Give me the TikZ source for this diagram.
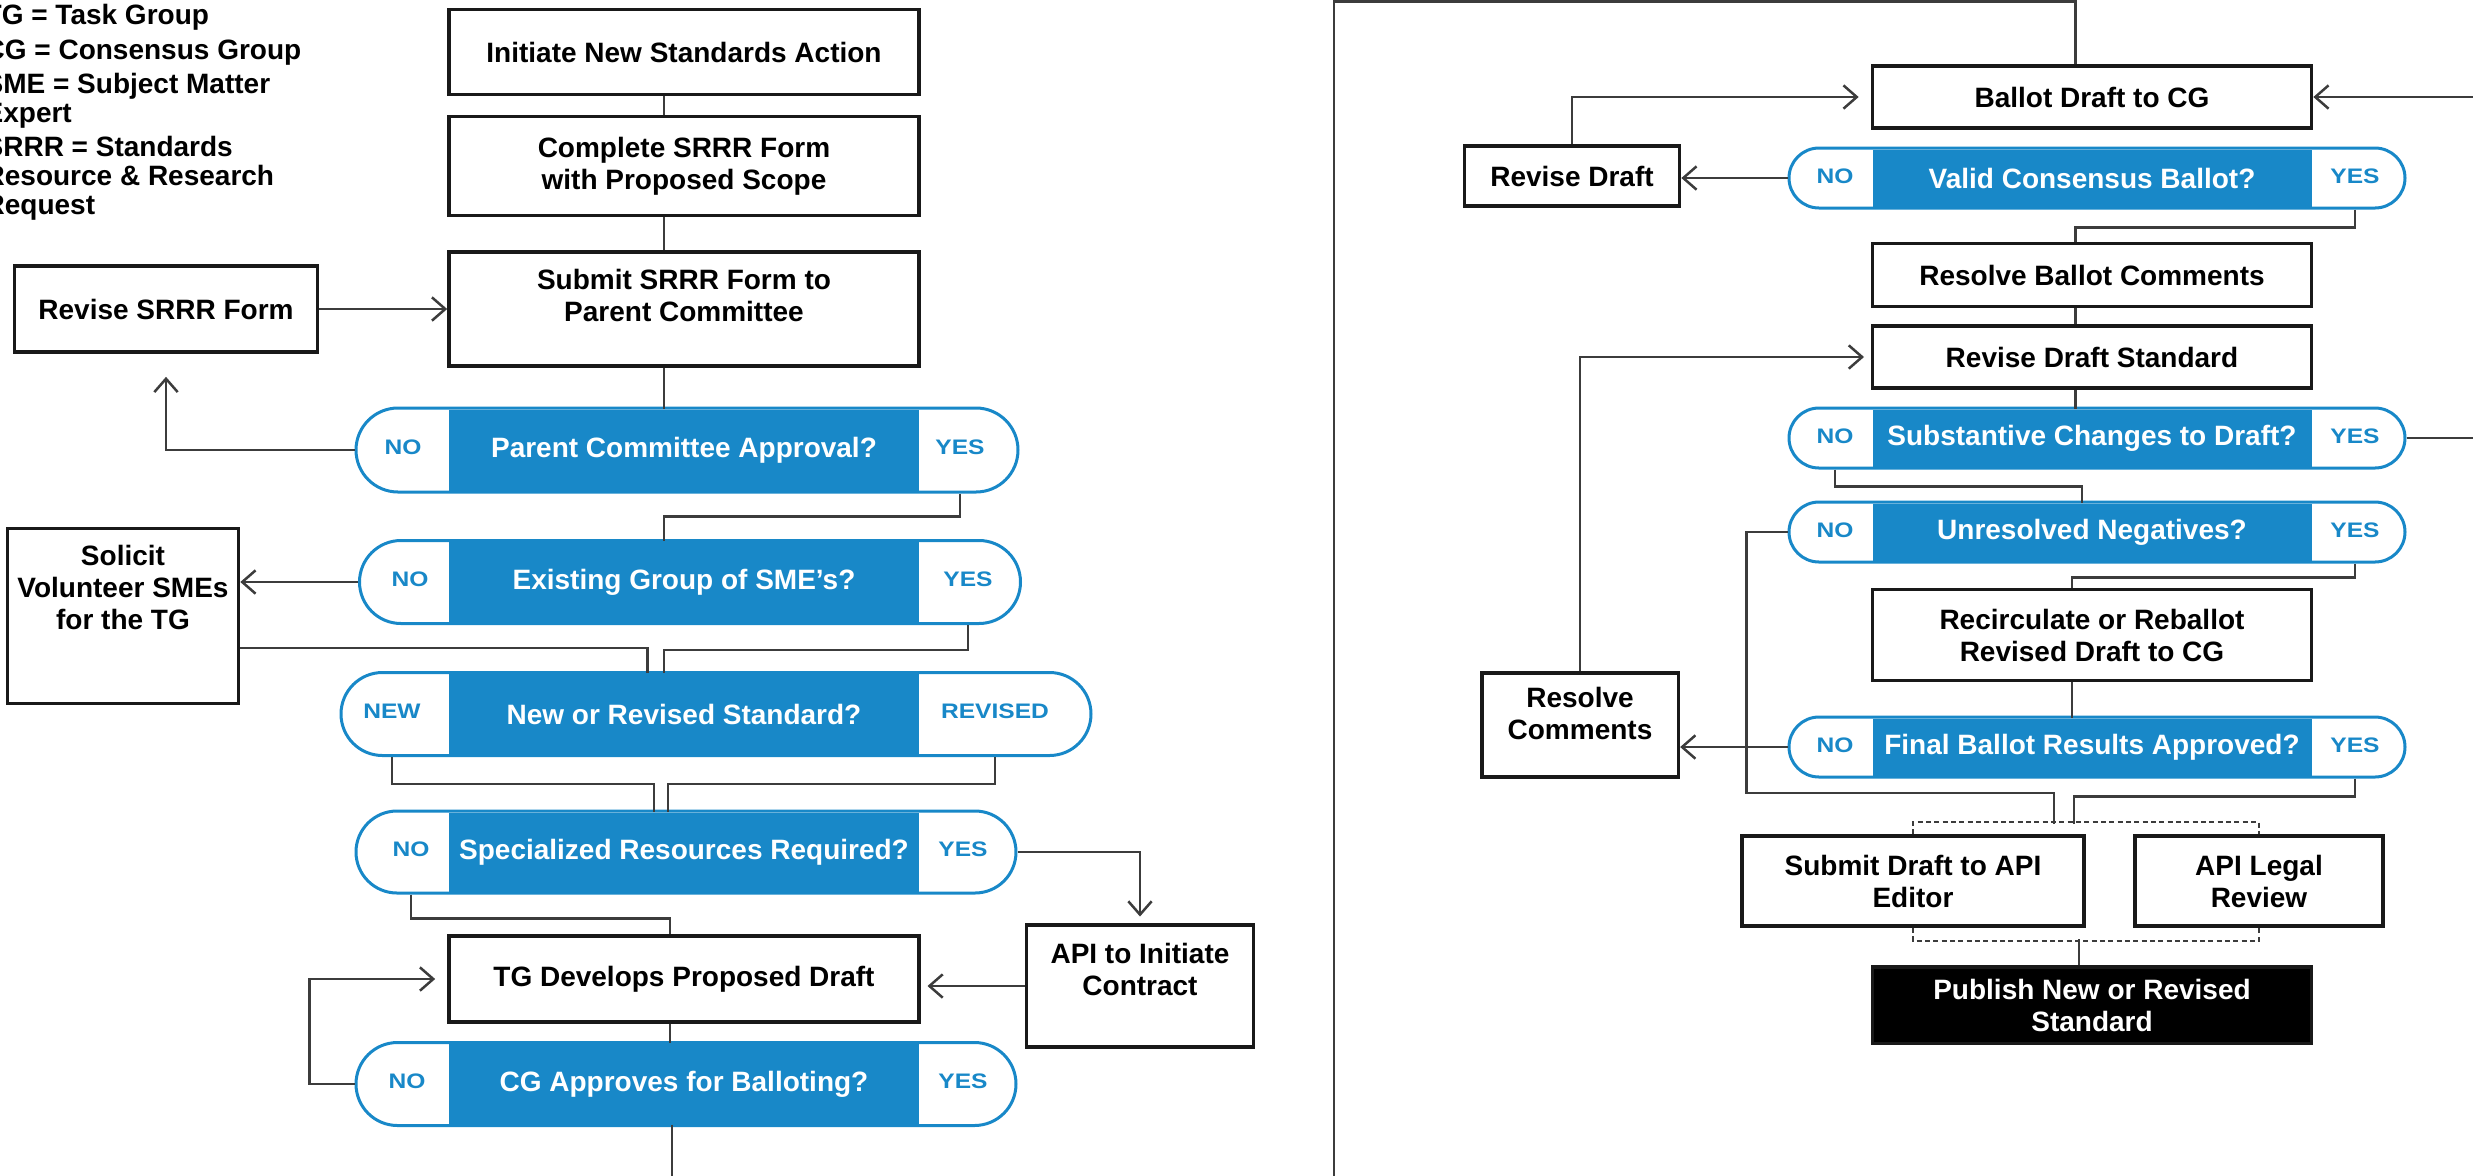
\documentclass[tikz,border=0pt]{standalone}
\usepackage{fontspec}
\setmainfont{Liberation Sans}
\newfontfamily\widefont[FakeStretch=1.17]{Liberation Sans}
\usetikzlibrary{shapes.misc,arrows.meta}

\definecolor{apiblue}{RGB}{24,136,200}
\definecolor{linegray}{RGB}{60,60,60}

\tikzset{
  box/.style={draw=black!90, line width=1.1pt, fill=white, align=center, inner sep=1pt,
    font=\bfseries\fontsize{8.4}{9.6}\selectfont},
  lbox/.style={box, minimum width=141pt},
  rbox/.style={box, minimum width=131.7pt},
  pill/.style={rounded rectangle, draw=apiblue, line width=0.9pt, fill=white, inner sep=0pt},
  ask/.style={fill=apiblue, text=white, inner sep=0pt, font=\bfseries\fontsize{8.4}{9.6}\selectfont},
  yn/.style={text=apiblue, inner sep=0pt, font=\widefont\bfseries\fontsize{6.3}{7}\selectfont},
  link/.style={draw=linegray, line width=0.75pt},
  arr/.style={link, -{Straight Barb[length=4pt,width=7pt]}},
  bracket/.style={draw=linegray, line width=0.6pt, dash pattern=on 1.5pt off 1pt},
}

\begin{document}
\begin{tikzpicture}[x=0.3pt, y=-0.3pt]
  \useasboundingbox (0,0) rectangle (2473,1175);

  % legend
  \node[anchor=north west, align=left, inner sep=0pt, font=\bfseries\fontsize{8.4}{8.7}\selectfont] (legend) at (-16,4)
    {TG = Task Group\\[1.6pt] CG = Consensus Group\\[1.6pt] SME = Subject Matter\\Expert\\[1.6pt] SRRR = Standards\\Resource \& Research\\Request};

  % left column
  \node[lbox, minimum height=25.5pt] (initiate) at (684,52) {Initiate New Standards Action};
  \node[lbox, minimum height=29.7pt] (complete) at (684,166) {Complete SRRR Form\\with Proposed Scope};
  \node[lbox, minimum height=34.2pt, text depth=8pt] (submit) at (684,309) {Submit SRRR Form to\\Parent Committee};
  \node[box, minimum width=90.9pt, minimum height=25.8pt] (revsrrr) at (166,309) {Revise SRRR Form};

  \node[pill, minimum width=198.6pt, minimum height=25.2pt] (parentpill) at (687,450) {};
  \node[ask, minimum width=141pt, minimum height=24.3pt] (parent) at (684,450) {Parent Committee Approval?};
  \node[yn] (parentno) at (403,447) {NO};
  \node[yn] (parentyes) at (960,447) {YES};

  \node[pill, minimum width=198.3pt, minimum height=24.9pt] (existpill) at (690,582) {};
  \node[ask, minimum width=141pt, minimum height=24pt] (exist) at (684,582) {Existing Group of SME’s?};
  \node[yn] (existno) at (410,579) {NO};
  \node[yn] (existyes) at (968,579) {YES};

  \node[box, minimum width=69.3pt, minimum height=52.5pt, text depth=17pt] (solicit) at (123,616) {Solicit\\Volunteer SMEs\\for the TG};

  \node[pill, minimum width=225pt, minimum height=24.9pt] (newpill) at (716,714) {};
  \node[ask, minimum width=141pt, minimum height=24pt] (new) at (684,714) {New or Revised Standard?};
  \node[yn] (newno) at (392,711) {NEW};
  \node[yn] (newyes) at (995,711) {REVISED};

  \node[pill, minimum width=198pt, minimum height=24.6pt] (specpill) at (686,852) {};
  \node[ask, minimum width=141pt, minimum height=23.7pt] (spec) at (684,852) {Specialized Resources Required?};
  \node[yn] (specno) at (411,849) {NO};
  \node[yn] (specyes) at (963,849) {YES};

  \node[lbox, minimum height=25.8pt] (tg) at (684,979) {TG Develops Proposed Draft};
  \node[box, minimum width=68.1pt, minimum height=36.6pt, text depth=10pt] (api) at (1140,986) {API to Initiate\\Contract};

  \node[pill, minimum width=198pt, minimum height=24.9pt] (cgpill) at (686,1084) {};
  \node[ask, minimum width=141pt, minimum height=24pt] (cg) at (684,1084) {CG Approves for Balloting?};
  \node[yn] (cgno) at (407,1081) {NO};
  \node[yn] (cgyes) at (963,1081) {YES};

  \draw[link] ([xshift=-6pt]initiate.south) -- ([xshift=-6pt]complete.north);
  \draw[link] ([xshift=-6pt]complete.south) -- ([xshift=-6pt]submit.north);
  \draw[arr] (revsrrr.east) -- (submit.west);
  \draw[link] ([xshift=-6pt]submit.south) -- ([xshift=-6pt]parent.north);
  \draw[arr, shorten >=6.9pt] (parentpill.west) -| (revsrrr.south);
  \draw[link] (parentyes |- parentpill.south) -- ++(0,23) -| ([xshift=-6pt]exist.north);
  \draw[arr] (existpill.west) -- (existpill.west -| solicit.east);
  \draw[link] (solicit.east) ++(0,32) -| ([xshift=-11pt]new.north);
  \draw[link] (existyes |- existpill.south) -- ++(0,25) -| ([xshift=-6pt]new.north);
  \draw[link] (newno |- newpill.south) -- ++(0,27) -| ([xshift=-9pt]spec.north);
  \draw[link] (newyes |- newpill.south) -- ++(0,27) -| ([xshift=-4.8pt]spec.north);
  \draw[link] (specno |- specpill.south) -- ++(0,24) -| ([xshift=-4.2pt]tg.north);
  \draw[arr, shorten >=2pt] (specpill.east) -| (api.north);
  \draw[arr, shorten >=2pt] (api.west) -- (api.west -| tg.east);
  \draw[link] ([xshift=-4.2pt]tg.south) -- ([xshift=-4.2pt]cg.north);
  \draw[arr, shorten >=3.6pt] (cgpill.west) -- ++(-45,0) |- (tg.west);
  \draw[link] ([xshift=-3.6pt]cg.south) -- ++(0,60);

  % right column
  \node[rbox, minimum height=18.6pt] (ballot) at (2092,97) {Ballot Draft to CG};
  \node[box, minimum width=64.5pt, minimum height=18pt] (revdraft) at (1572,176) {Revise Draft};

  \node[pill, minimum width=184.8pt, minimum height=18pt] (validpill) at (2097,178) {};
  \node[ask, minimum width=131.7pt, minimum height=17.1pt] (valid) at (2092,178) {Valid Consensus Ballot?};
  \node[yn] (validno) at (1835,176) {NO};
  \node[yn] (validyes) at (2355,176) {YES};

  \node[rbox, minimum height=18.9pt] (resballot) at (2092,275) {Resolve Ballot Comments};
  \node[rbox, minimum height=18.6pt] (revstd) at (2092,357) {Revise Draft Standard};

  \node[pill, minimum width=184.8pt, minimum height=18pt] (substpill) at (2097,438) {};
  \node[ask, minimum width=131.7pt, minimum height=17.1pt] (subst) at (2092,438) {Substantive Changes to Draft?};
  \node[yn] (substno) at (1835,436) {NO};
  \node[yn] (substyes) at (2355,436) {YES};

  \node[pill, minimum width=184.8pt, minimum height=18pt] (unrespill) at (2097,532) {};
  \node[ask, minimum width=131.7pt, minimum height=17.1pt] (unres) at (2092,532) {Unresolved Negatives?};
  \node[yn] (unresno) at (1835,530) {NO};
  \node[yn] (unresyes) at (2355,530) {YES};

  \node[rbox, minimum height=27.3pt] (recirc) at (2092,635) {Recirculate or Reballot\\Revised Draft to CG};
  \node[box, minimum width=59pt, minimum height=31.2pt, text depth=7pt] (rescomm) at (1580,725) {Resolve\\Comments};

  \node[pill, minimum width=184.8pt, minimum height=18pt] (finalpill) at (2097,747) {};
  \node[ask, minimum width=131.7pt, minimum height=17.1pt] (final) at (2092,747) {Final Ballot Results Approved?};
  \node[yn] (finalno) at (1835,745) {NO};
  \node[yn] (finalyes) at (2355,745) {YES};

  \node[box, minimum width=102.6pt, minimum height=27pt] (subdraft) at (1913,881) {Submit Draft to API\\Editor};
  \node[box, minimum width=74.4pt, minimum height=27pt] (legal) at (2259,881) {API Legal\\Review};
  \node[box, fill=black, text=white, minimum width=131.7pt, minimum height=23pt] (publish) at (2092,1005) {Publish New or Revised\\Standard};

  \coordinate (joinin) at (2064,824);
  \coordinate (joinout) at (2079,939);

  \draw[link] (1334,1190) -- (1334,1.5) -| ([xshift=-5pt]ballot.north);
  \draw[arr, shorten >=3.6pt] (revdraft.north) |- (ballot.west);
  \draw[arr] (ballot.east) ++(200,0) -- (ballot.east);
  \draw[arr] (validpill.west) -- (validpill.west -| revdraft.east);
  \draw[link] (validyes |- validpill.south) -- ++(0,18) -| ([xshift=-5pt]resballot.north);
  \draw[link] ([xshift=-5pt]resballot.south) -- ([xshift=-5pt]revstd.north);
  \draw[link] ([xshift=-5pt]revstd.south) -- ([xshift=-5pt]subst.north);
  \draw[arr, shorten >=2pt] (rescomm.north) |- (revstd.west);
  \draw[link] (substpill.east) -- ++(100,0);
  \draw[link] (substno |- substpill.south) -- ++(0,17) -| ([xshift=-3pt]unres.north);
  \draw[link] (unresyes |- unrespill.south) -- ++(0,14) -| ([xshift=-6pt]recirc.north);
  \draw[link] ([xshift=-6pt]recirc.south) -- ([xshift=-6pt]final.north);
  \draw[arr] (finalpill.west) -- (finalpill.west -| rescomm.east);
  \draw[link] (unrespill.west) -- ++(-41,0) -- ++(0,261) -| ([xshift=-3pt]joinin);
  \draw[link] (finalyes |- finalpill.south) -- ++(0,18) -| ([xshift=3pt]joinin);
  \draw[bracket] (subdraft.north) -- ++(0,-12) -| (legal.north);
  \draw[bracket] (subdraft.south) -- ++(0,13) -| (legal.south);
  \draw[link] (joinout) -- (joinout |- publish.north);

\end{tikzpicture}
\end{document}
